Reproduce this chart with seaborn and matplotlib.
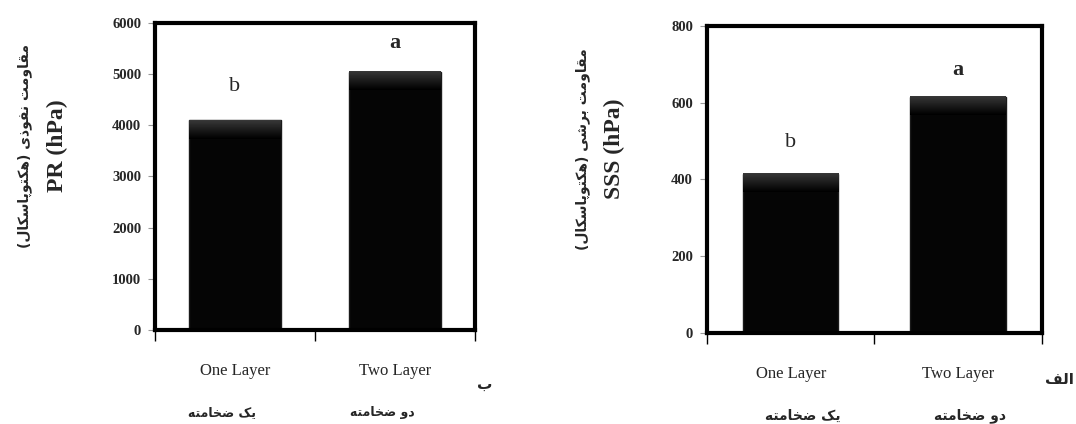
#two bar panels: PR (left) and SSS (right), one vs two layer
import numpy as np
import pandas as pd
import matplotlib
matplotlib.use("Agg")
import matplotlib.pyplot as plt
import seaborn as sns

layers = ["One Layer", "Two Layer"]
layers_fa = ["یک ضخامته", "دو ضخامته"]
pr_values = [4100, 5050]
sss_values = [415, 615]
pr_letters = ["b", "a"]
sss_letters = ["b", "a"]
pr_letter_y = [4750, 5610]
sss_letter_y = [495, 685]

pr_label_fa = "مقاومت نفوذی (هکتوپاسکال)"
sss_label_fa = "مقاومت برشی (هکتوپاسکال)"

# matplotlib has no arabic shaping, so pick presentation forms by hand
# (isolated, final, initial, medial); two entries = joins to the right only
FORMS = {
    "ا": ("\uFE8D", "\uFE8E"),
    "د": ("\uFEA9", "\uFEAA"),
    "ذ": ("\uFEAB", "\uFEAC"),
    "ر": ("\uFEAD", "\uFEAE"),
    "و": ("\uFEED", "\uFEEE"),
    "ب": ("\uFE8F", "\uFE90", "\uFE91", "\uFE92"),
    "ت": ("\uFE95", "\uFE96", "\uFE97", "\uFE98"),
    "خ": ("\uFEA5", "\uFEA6", "\uFEA7", "\uFEA8"),
    "س": ("\uFEB1", "\uFEB2", "\uFEB3", "\uFEB4"),
    "ش": ("\uFEB5", "\uFEB6", "\uFEB7", "\uFEB8"),
    "ض": ("\uFEBD", "\uFEBE", "\uFEBF", "\uFEC0"),
    "ف": ("\uFED1", "\uFED2", "\uFED3", "\uFED4"),
    "ق": ("\uFED5", "\uFED6", "\uFED7", "\uFED8"),
    "ل": ("\uFEDD", "\uFEDE", "\uFEDF", "\uFEE0"),
    "م": ("\uFEE1", "\uFEE2", "\uFEE3", "\uFEE4"),
    "ن": ("\uFEE5", "\uFEE6", "\uFEE7", "\uFEE8"),
    "ه": ("\uFEE9", "\uFEEA", "\uFEEB", "\uFEEC"),
    "پ": ("\uFB56", "\uFB57", "\uFB58", "\uFB59"),
    "ک": ("\uFB8E", "\uFB8F", "\uFB90", "\uFB91"),
    "ی": ("\uFBFC", "\uFBFD", "\uFBFE", "\uFBFF"),
}
MIRROR = {"(": ")", ")": "("}


def fa(text):
    out = []
    for i, ch in enumerate(text):
        if ch not in FORMS:
            out.append(MIRROR.get(ch, ch))
            continue
        prev_joins = i > 0 and len(FORMS.get(text[i - 1], ())) == 4
        next_joins = (len(FORMS[ch]) == 4 and i < len(text) - 1
                      and text[i + 1] in FORMS)
        if prev_joins and next_joins:
            out.append(FORMS[ch][3])
        elif next_joins:
            out.append(FORMS[ch][2])
        elif prev_joins:
            out.append(FORMS[ch][1])
        else:
            out.append(FORMS[ch][0])
    return "".join(reversed(out))


df = pd.DataFrame({"layer": layers, "pr": pr_values, "sss": sss_values})

sns.set_theme(style="white")
plt.rcParams["font.family"] = ["Liberation Serif", "DejaVu Sans"]

fig = plt.figure(figsize=(10.76, 4.24), dpi=100)
ax_pr = fig.add_axes([0.144, 0.222, 0.2975, 0.724])
ax_sss = fig.add_axes([0.657, 0.215, 0.3114, 0.724])

# per panel: axis, column, ymax, step, label, persian label, letters,
# letter heights, corner tag, label x offsets, fa label shift/size, tag pos
panels = [
    (ax_pr, "pr", 6000, 1000, "PR (hPa)", pr_label_fa, pr_letters,
     pr_letter_y, "ب", (-0.306, -0.406), (-0.08, 9), (1.031, -0.179)),
    (ax_sss, "sss", 800, 200, "SSS (hPa)", sss_label_fa, sss_letters,
     sss_letter_y, "الف", (-0.275, -0.37), (0.07, 10), (1.051, -0.153)),
]

bevel = np.linspace(0.22, 0.0, 32).reshape(-1, 1)

for (ax, col, ymax, step, ylab, ylab_fa, letters, letter_y, tag,
     lab_x, fa_cfg, tag_pos) in panels:
    sns.barplot(data=df, x="layer", y=col, color="#050505", saturation=1,
                width=0.57, edgecolor="#1a1a1a", linewidth=1, ax=ax)

    # darker-grey shine along the top of each bar, as in the original
    for patch in list(ax.patches):
        x0, w, h = patch.get_x(), patch.get_width(), patch.get_height()
        ax.imshow(bevel, cmap="gray", vmin=0, vmax=1, aspect="auto",
                  extent=[x0, x0 + w, h - ymax * 0.06, h], zorder=3,
                  interpolation="bilinear")

    ax.set_xlim(-0.5, 1.5)
    ax.set_ylim(0, ymax)
    ax.set_yticks(range(0, ymax + 1, step))
    ax.set_yticklabels([str(v) for v in range(0, ymax + 1, step)],
                       fontsize=10.5, fontweight="bold")
    for s in ax.spines.values():
        s.set_visible(True)
        s.set_color("black")
        s.set_linewidth(3)
        s.set_zorder(5)
    ax.tick_params(axis="y", direction="out", length=5, width=0.8,
                   color="#999999", pad=5, left=True)
    ax.set_xticks([-0.5, 0.5, 1.5], minor=True)
    ax.tick_params(axis="x", which="minor", direction="out", length=8,
                   width=1, color="black", bottom=True)
    ax.tick_params(axis="x", which="major", length=0, pad=24, labelsize=12)
    ax.set_xlabel("")
    ax.set_ylabel("")

    for i, (lt, ly) in enumerate(zip(letters, letter_y)):
        ax.text(i, ly, lt, ha="center", va="center", fontsize=16,
                fontweight="bold" if lt == "a" else "normal")

    trans = ax.get_xaxis_transform()
    for i, name in enumerate(layers_fa):
        ax.text(i + fa_cfg[0], -0.27, fa(name), transform=trans,
                ha="center", va="center", fontsize=fa_cfg[1],
                fontweight="bold", family="DejaVu Sans")
    ax.text(tag_pos[0], tag_pos[1], fa(tag), transform=ax.transAxes,
            ha="center", va="center", fontsize=11, fontweight="bold",
            family="DejaVu Sans")

    ax.text(lab_x[0], 0.6, ylab, transform=ax.transAxes, rotation=90,
            ha="center", va="center", fontsize=17, fontweight="bold")
    ax.text(lab_x[1], 0.6, fa(ylab_fa), transform=ax.transAxes, rotation=90,
            ha="center", va="center", fontsize=10, fontweight="bold",
            family="DejaVu Sans")

fig.savefig("out.png", dpi=100, facecolor="white")
